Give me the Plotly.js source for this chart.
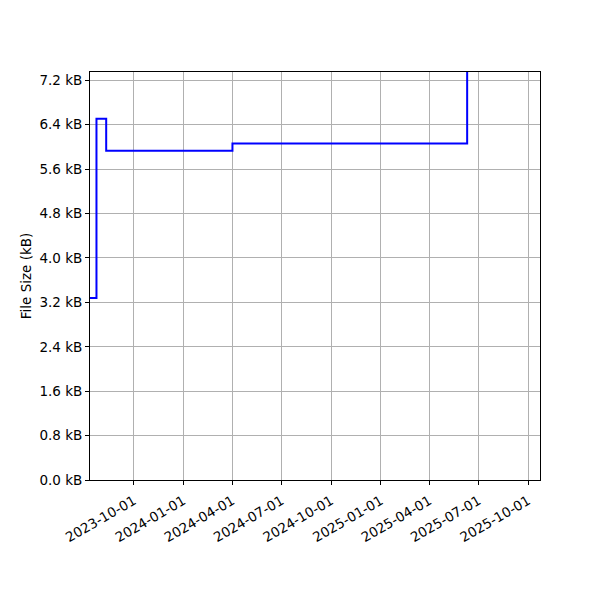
<!DOCTYPE html>
<html>
<head>
<meta charset="utf-8">
<script src="https://cdn.plot.ly/plotly-3.0.1.min.js"></script>
<style>html,body{margin:0;padding:0;background:#fff;}#chart{width:600px;height:600px;}</style>
</head>
<body>
<div id="chart"></div>
<script>
const dates = ['2023-07-12', '2023-07-24', '2023-08-11', '2024-04-01', '2025-06-10'];
const sizesKB = [3.28, 6.51, 5.93, 6.06, 7.6];
const yTickVals = [0, 0.8, 1.6, 2.4, 3.2, 4.0, 4.8, 5.6, 6.4, 7.2];
const yTickText = ['0.0 kB', '0.8 kB', '1.6 kB', '2.4 kB', '3.2 kB', '4.0 kB', '4.8 kB', '5.6 kB', '6.4 kB', '7.2 kB'];
const xTickVals = ['2023-10-01', '2024-01-01', '2024-04-01', '2024-07-01', '2024-10-01', '2025-01-01', '2025-04-01', '2025-07-01', '2025-10-01'];
const xRange = ['2023-07-12', '2025-10-23'];
const yRange = [0, 7.35];

const trace = {
  x: dates, y: sizesKB, type: 'scatter', mode: 'lines',
  line: {shape: 'hv', color: '#0000ff', width: 2}
};
const font = {family: 'DejaVu Sans, sans-serif', size: 13.5, color: '#000'};
const layout = {
  width: 600, height: 600,
  margin: {l: 90, r: 60, t: 72, b: 120, pad: 0},
  paper_bgcolor: '#fff', plot_bgcolor: '#fff',
  font: font,
  showlegend: false,
  xaxis: {
    type: 'date', range: xRange,
    tickvals: xTickVals, ticktext: xTickVals,
    tickangle: -30,
    ticklabelstandoff: 3,
    showgrid: true, gridcolor: '#b0b0b0', gridwidth: 1,
    showline: true, linecolor: '#000', linewidth: 1, mirror: true,
    ticks: 'outside', ticklen: 4, tickcolor: '#000',
    zeroline: false, tickfont: font
  },
  yaxis: {
    range: yRange,
    tickvals: yTickVals, ticktext: yTickText,
    showgrid: true, gridcolor: '#b0b0b0', gridwidth: 1,
    showline: true, linecolor: '#000', linewidth: 1, mirror: true,
    ticks: 'outside', ticklen: 4, tickcolor: '#000',
    zeroline: false, tickfont: font,
    title: {text: 'File Size (kB)', font: font, standoff: 4}
  }
};
Plotly.newPlot('chart', [trace], layout, {staticPlot: true, displayModeBar: false});
</script>
</body>
</html>
